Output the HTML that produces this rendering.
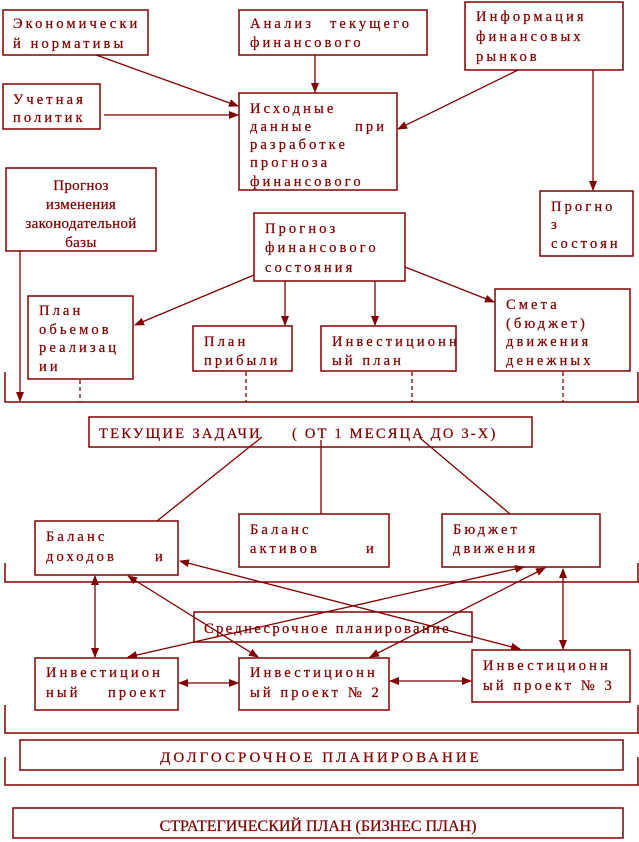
<!DOCTYPE html>
<html><head><meta charset="utf-8"><style>
html,body{margin:0;padding:0;background:#fff;}
svg{display:block;}
text{fill:#800000;font-family:"Liberation Serif","DejaVu Serif",serif;font-size:14.5px;letter-spacing:3.1px;stroke:#800000;stroke-width:0.25px;}
.c{letter-spacing:0.3px;font-size:15px;}
</style></head><body>
<svg width="639" height="842" viewBox="0 0 639 842" xmlns="http://www.w3.org/2000/svg">
<defs>
<marker id="a" markerWidth="10" markerHeight="10" refX="9" refY="5" orient="auto" markerUnits="userSpaceOnUse"><path d="M0,1 L10,5 L0,9 Z" fill="#800000"/></marker>
<marker id="s" markerWidth="10" markerHeight="10" refX="1" refY="5" orient="auto" markerUnits="userSpaceOnUse"><path d="M10,1 L0,5 L10,9 Z" fill="#800000"/></marker>
</defs>
<g fill="none" stroke="#800000" stroke-width="1.5">
<rect x="3" y="10" width="145" height="45"/>
<rect x="239" y="10" width="188" height="45"/>
<rect x="465" y="2" width="158" height="68"/>
<rect x="3" y="84" width="97" height="45"/>
<rect x="239" y="93" width="158" height="97"/>
<rect x="6" y="168" width="150" height="83"/>
<rect x="254" y="213" width="151" height="68"/>
<rect x="540" y="191" width="93" height="65"/>
<rect x="28" y="296" width="105" height="83"/>
<rect x="193" y="326" width="99" height="45"/>
<rect x="321" y="326" width="135" height="45"/>
<rect x="495" y="289" width="135" height="82"/>
<path d="M5,372 V402 H639 M638,372 V402"/>
<rect x="89" y="417" width="443" height="30"/>
<rect x="35" y="521" width="143" height="54"/>
<rect x="239" y="514" width="150" height="53"/>
<rect x="442" y="514" width="158" height="53"/>
<path d="M5,563 V582 H639 M638,563 V582"/>
<rect x="194" y="612" width="278" height="30"/>
<rect x="35" y="658" width="143" height="52"/>
<rect x="239" y="658" width="150" height="52"/>
<rect x="472" y="650" width="158" height="52"/>
<path d="M5,705 V733 H639 M638,705 V733"/>
<rect x="20" y="740" width="603" height="30"/>
<path d="M5,757 V785 H639 M638,757 V785"/>
<rect x="13" y="808" width="610" height="30"/>
</g>
<g stroke="#800000" stroke-width="1.3" fill="none">
<path d="M80,380 V402 M246,372 V402 M412,372 V402 M563,372 V402" stroke-dasharray="4,3"/>
<line x1="96" y1="55" x2="238" y2="106" marker-end="url(#a)"/>
<line x1="104" y1="115" x2="238" y2="115" marker-end="url(#a)"/>
<line x1="315" y1="55" x2="315" y2="92" marker-end="url(#a)"/>
<line x1="518" y1="70" x2="398" y2="129" marker-end="url(#a)"/>
<line x1="593" y1="70" x2="593" y2="190" marker-end="url(#a)"/>
<line x1="20" y1="251" x2="20" y2="401" marker-end="url(#a)"/>
<line x1="254" y1="275" x2="135" y2="325" marker-end="url(#a)"/>
<line x1="285" y1="281" x2="285" y2="325" marker-end="url(#a)"/>
<line x1="375" y1="281" x2="375" y2="325" marker-end="url(#a)"/>
<line x1="405" y1="267" x2="494" y2="302" marker-end="url(#a)"/>
<line x1="262" y1="437" x2="157" y2="521"/>
<line x1="321" y1="440" x2="321" y2="514"/>
<line x1="420" y1="438" x2="510" y2="514"/>
<line x1="95" y1="576" x2="95" y2="657" marker-start="url(#s)" marker-end="url(#a)"/>
<line x1="128" y1="576" x2="258" y2="657" marker-start="url(#s)" marker-end="url(#a)"/>
<line x1="180" y1="561" x2="520" y2="649" marker-start="url(#s)" marker-end="url(#a)"/>
<line x1="524" y1="567" x2="128" y2="657" marker-start="url(#s)" marker-end="url(#a)"/>
<line x1="545" y1="568" x2="370" y2="657" marker-start="url(#s)" marker-end="url(#a)"/>
<line x1="563" y1="569" x2="563" y2="649" marker-start="url(#s)" marker-end="url(#a)"/>
<line x1="179" y1="683" x2="238" y2="683" marker-start="url(#s)" marker-end="url(#a)"/>
<line x1="390" y1="681" x2="471" y2="681" marker-start="url(#s)" marker-end="url(#a)"/>
</g>
<text x="13" y="28">Экономически</text>
<text x="13" y="48">й нормативы</text>
<text x="250" y="28">Анализ</text><text x="330" y="28">текущего</text>
<text x="250" y="47">финансового</text>
<text x="476" y="21">Информация</text>
<text x="476" y="41">финансовых</text>
<text x="476" y="61">рынков</text>
<text x="13" y="104">Учетная</text>
<text x="13" y="122">политик</text>
<text x="250" y="113">Исходные</text>
<text x="250" y="131">данные</text><text x="355" y="131">при</text>
<text x="250" y="149">разработке</text>
<text x="250" y="167">прогноза</text>
<text x="250" y="186">финансового</text>
<text class="c" x="81" y="190" text-anchor="middle">Прогноз</text>
<text class="c" x="81" y="209" text-anchor="middle">изменения</text>
<text class="c" x="81" y="228" text-anchor="middle">законодательной</text>
<text class="c" x="81" y="247" text-anchor="middle">базы</text>
<text x="265" y="233">Прогноз</text>
<text x="265" y="252">финансового</text>
<text x="265" y="272">состояния</text>
<text x="551" y="211">Прогно</text>
<text x="551" y="229">з</text>
<text x="551" y="248">состоян</text>
<text x="39" y="315">План</text>
<text x="39" y="334">обьемов</text>
<text x="39" y="352">реализац</text>
<text x="39" y="371">ии</text>
<text x="204" y="346">План</text>
<text x="204" y="365">прибыли</text>
<text x="332" y="346">Инвестиционн</text>
<text x="332" y="365">ый план</text>
<text x="506" y="309">Смета</text>
<text x="506" y="328">(бюджет)</text>
<text x="506" y="346">движения</text>
<text x="506" y="365">денежных</text>
<text x="99" y="438" style="letter-spacing:2.3px">ТЕКУЩИЕ ЗАДАЧИ</text>
<text x="292" y="438" style="letter-spacing:2.2px">( ОТ 1 МЕСЯЦА ДО 3-Х)</text>
<text x="46" y="541">Баланс</text>
<text x="46" y="561">доходов</text><text x="155" y="561">и</text>
<text x="250" y="534">Баланс</text>
<text x="250" y="553">активов</text><text x="366" y="553">и</text>
<text x="453" y="534">Бюджет</text>
<text x="453" y="553">движения</text>
<text x="204" y="633" style="letter-spacing:2.4px">Среднесрочное планирование</text>
<text x="46" y="677">Инвестицион</text>
<text x="46" y="697">ный</text><text x="108" y="697">проект</text>
<text x="250" y="677">Инвестиционн</text>
<text x="250" y="697">ый проект № 2</text>
<text x="483" y="670">Инвестиционн</text>
<text x="483" y="690">ый проект № 3</text>
<text x="321" y="762" text-anchor="middle" style="letter-spacing:3px;font-size:15px">ДОЛГОСРОЧНОЕ ПЛАНИРОВАНИЕ</text>
<text x="318" y="831" text-anchor="middle" style="letter-spacing:0px;font-size:16px">СТРАТЕГИЧЕСКИЙ ПЛАН (БИЗНЕС ПЛАН)</text>
</svg>
</body></html>
